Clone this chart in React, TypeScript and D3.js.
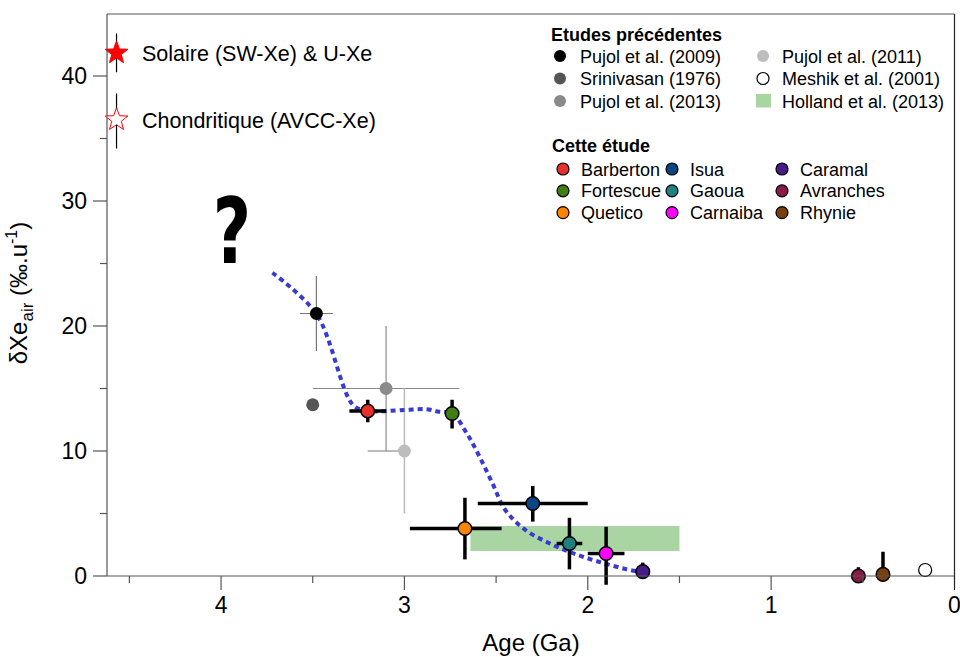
import React from "react";
import * as d3 from "d3";

// ---------- data ----------
const xTicksMajor = [0, 1, 2, 3, 4];
const xTicksMinor = [0.5, 1.5, 2.5, 3.5, 4.5];
const yTicksMajor = [0, 10, 20, 30, 40];
const yTicksMinor = [5, 15, 25, 35];

// previous studies
const prevNames = ["Pujol et al. (2009)", "Srinivasan (1976)", "Pujol et al. (2013)", "Pujol et al. (2011)", "Meshik et al. (2001)"];
const prevAge = [3.48, 3.5, 3.1, 3.0, 0.16];
const prevVal = [21.0, 13.7, 15.0, 10.0, 0.48];
const prevAgeHi = [3.57, null, 3.5, 3.2, null];
const prevAgeLo = [3.39, null, 2.7, 3.0, null];
const prevValHi = [24.0, null, 20.0, 15.0, null];
const prevValLo = [18.0, null, 10.0, 5.0, null];
const prevColors = ["#000000", "#555555", "#8a8a8a", "#bdbdbd", "#ffffff"];
const prevErrColors = ["#777777", "#777777", "#8a8a8a", "#bdbdbd", "#777777"];

// Holland et al. (2013) band
const hollandAge = [2.64, 1.5];
const hollandVal = [4.0, 2.0];

// this study
const studyNames = ["Barberton", "Fortescue", "Quetico", "Isua", "Gaoua", "Carnaiba", "Caramal", "Avranches", "Rhynie"];
const studyAge = [3.2, 2.74, 2.67, 2.3, 2.1, 1.9, 1.7, 0.524, 0.39];
const studyVal = [13.2, 13.0, 3.8, 5.8, 2.6, 1.8, 0.35, 0.0, 0.13];
const studyAgeHi = [3.3, 2.76, 2.97, 2.6, 2.17, 2.0, null, null, null];
const studyAgeLo = [3.1, 2.72, 2.47, 2.0, 2.03, 1.8, null, null, null];
const studyValHi = [14.1, 14.1, 6.26, 7.2, 4.66, 3.94, 1.07, 0.7, 1.94];
const studyValLo = [12.3, 11.8, 1.33, 4.35, 0.53, -0.7, 0.35, 0.0, 0.13];
const studyColors = ["#e8302a", "#3f7f12", "#ff8400", "#0b4584", "#1f8080", "#ff00ff", "#4a1a88", "#8a1a4a", "#7a3f0f"];

// trend curve (blue dotted)
const curveAge = [3.72, 3.48, 3.28, 3.2, 3.0, 2.88, 2.81, 2.74, 2.66, 2.59, 2.52, 2.45, 2.34, 2.21, 2.08, 1.94, 1.79, 1.72];
const curveVal = [24.26, 20.96, 13.68, 13.22, 13.28, 13.34, 13.14, 13.02, 11.42, 9.54, 7.42, 5.28, 3.68, 2.62, 1.82, 1.14, 0.54, 0.34];

// reference stars
const starLabels = ["Solaire (SW-Xe) & U-Xe", "Chondritique (AVCC-Xe)"];
const starAge = [4.57, 4.57];
const starVal = [41.84, 36.5];
const starValHi = [43.4, 38.6];
const starValLo = [40.3, 34.2];

const studyLegendOrder = ["Barberton", "Fortescue", "Quetico", "Isua", "Gaoua", "Carnaiba", "Caramal", "Avranches", "Rhynie"];

const FONT = "'Liberation Sans', Arial, Helvetica, sans-serif";

function starPath(cx: number, cy: number, R: number, r: number) {
  const pts: string[] = [];
  for (let i = 0; i < 10; i++) {
    const a = -Math.PI / 2 + (i * Math.PI) / 5;
    const rad = i % 2 === 0 ? R : r;
    pts.push(`${cx + rad * Math.cos(a)},${cy + rad * Math.sin(a)}`);
  }
  return "M" + pts.join("L") + "Z";
}

export default function App() {
  const left = 107, right = 954.5, top = 14, bottom = 576;
  const x = d3.scaleLinear().domain([4.622, 0]).range([left, right]);
  const y = d3.scaleLinear().domain([0, 45]).range([bottom, bottom - 45 * 12.5]);

  const line = d3
    .line<number>()
    .x((_, i) => x(curveAge[i]))
    .y((_, i) => y(curveVal[i]))
    .curve(d3.curveCatmullRom.alpha(0.5));

  const axisColor = "#555";

  return (
    <svg width={960} height={657} style={{ position: "absolute", left: 0, top: 0, background: "#fff" }} fontFamily={FONT}>
      {/* frame */}
      <line x1={left} x2={right} y1={top} y2={top} stroke={axisColor} strokeWidth={1.2} />
      <line x1={left} x2={left} y1={top} y2={bottom} stroke={axisColor} strokeWidth={1.2} />
      <line x1={right} x2={right} y1={top} y2={bottom} stroke="#222" strokeWidth={1.2} />

      {/* Holland band */}
      <rect
        x={x(hollandAge[0])}
        y={y(hollandVal[0])}
        width={x(hollandAge[1]) - x(hollandAge[0])}
        height={y(hollandVal[1]) - y(hollandVal[0])}
        fill="#a8d5a2"
      />

      {/* previous studies error bars */}
      {prevNames.map((n, i) => (
        <g key={"pe" + i}>
          {prevValHi[i] != null && (
            <line x1={x(prevAge[i])} x2={x(prevAge[i])} y1={y(prevValHi[i] as number)} y2={y(prevValLo[i] as number)}
              stroke={prevErrColors[i]} strokeWidth={i === 3 ? 1.6 : 1.2} />
          )}
          {prevAgeHi[i] != null && (
            <line x1={x(prevAgeHi[i] as number)} x2={x(prevAgeLo[i] as number)} y1={y(prevVal[i])} y2={y(prevVal[i])}
              stroke={i === 3 ? "#777" : prevErrColors[i]} strokeWidth={1.2} />
          )}
        </g>
      ))}

      {/* trend curve */}
      <path d={line(curveAge) || ""} fill="none" stroke="#3a3ad2" strokeWidth={4} strokeDasharray="5,4" />

      {/* previous studies points */}
      {prevNames.map((n, i) => (
        <circle key={"pp" + i} cx={x(prevAge[i])} cy={y(prevVal[i])} r={6.5}
          fill={prevColors[i]} stroke={i === 4 ? "#000" : "none"} strokeWidth={1.2} />
      ))}

      {/* this study error bars */}
      {studyNames.map((n, i) => (
        <g key={"se" + i}>
          <line x1={x(studyAge[i])} x2={x(studyAge[i])} y1={y(studyValHi[i])} y2={y(studyValLo[i])}
            stroke="#000" strokeWidth={3.5} />
          {studyAgeHi[i] != null && (
            <line x1={x(studyAgeHi[i] as number)} x2={x(studyAgeLo[i] as number)} y1={y(studyVal[i])} y2={y(studyVal[i])}
              stroke="#000" strokeWidth={3.5} />
          )}
        </g>
      ))}
      {studyNames.map((n, i) => (
        <circle key={"sp" + i} cx={x(studyAge[i])} cy={y(studyVal[i])} r={6.8}
          fill={studyColors[i]} stroke="#000" strokeWidth={1.5} />
      ))}

      {/* x axis */}
      <line x1={left} x2={right} y1={bottom} y2={bottom} stroke={axisColor} strokeWidth={1.2} />
      {xTicksMajor.map((t) => (
        <g key={"xt" + t}>
          <line x1={x(t)} x2={x(t)} y1={bottom} y2={bottom + 14} stroke={t === 0 ? "#222" : axisColor} strokeWidth={1.2} />
          <text x={x(t)} y={613} fontSize={23} textAnchor="middle" fill="#000">{t}</text>
        </g>
      ))}
      {xTicksMinor.map((t) => (
        <line key={"xm" + t} x1={x(t)} x2={x(t)} y1={bottom} y2={bottom + 7} stroke={axisColor} strokeWidth={1.2} />
      ))}
      <text x={531} y={651} fontSize={24} textAnchor="middle" fill="#000">Age (Ga)</text>

      {/* y axis */}
      {yTicksMajor.map((t) => (
        <g key={"yt" + t}>
          <line x1={left - 14} x2={left} y1={y(t)} y2={y(t)} stroke={axisColor} strokeWidth={1.2} />
          <text x={87} y={y(t)} dy="0.36em" fontSize={23} textAnchor="end" fill="#000">{t}</text>
        </g>
      ))}
      {yTicksMinor.map((t) => (
        <line key={"ym" + t} x1={left - 7} x2={left} y1={y(t)} y2={y(t)} stroke={axisColor} strokeWidth={1.2} />
      ))}
      <text transform="translate(27,293) rotate(-90)" fontSize={24} textAnchor="middle" fill="#000">
        δXe<tspan fontSize={17} dy={6}>air</tspan>
        <tspan dy={-6}> (‰.u</tspan>
        <tspan fontSize={16} dy={-10}>-1</tspan>
        <tspan dy={10}>)</tspan>
      </text>

      {/* reference stars */}
      {starLabels.map((s, i) => (
        <g key={"st" + i}>
          <line x1={x(starAge[i])} x2={x(starAge[i])} y1={y(starValHi[i])} y2={y(starValLo[i])} stroke="#000" strokeWidth={1.2} />
          <path d={starPath(x(starAge[i]), y(starVal[i]), 12, 5)} fill={i === 0 ? "#ff0000" : "#fff"}
            stroke="#ff0000" strokeWidth={1} />
          <text x={142} y={y(starVal[i]) + 8} fontSize={21.5} fill="#000">{s}</text>
        </g>
      ))}

      {/* question mark */}
      <text x={232} y={263} fontSize={92} fontWeight="bold" textAnchor="middle" fill="#000" fontFamily="'DejaVu Sans', sans-serif"
        transform="translate(232,263) scale(0.72,0.98) translate(-232,-263)">?</text>

      {/* legend: previous studies */}
      <text x={551} y={41} fontSize={18} fontWeight="bold" fill="#000">Etudes précédentes</text>
      {[0, 1, 2].map((k) => (
        <g key={"lp" + k}>
          <circle cx={560} cy={56 + k * 22.5} r={6} fill={prevColors[k]} />
          <text x={580} y={56 + k * 22.5 + 6.5} fontSize={18} fill="#000">{prevNames[k]}</text>
        </g>
      ))}
      <circle cx={763} cy={56} r={6} fill={prevColors[3]} />
      <text x={782} y={62.5} fontSize={18} fill="#000">{prevNames[3]}</text>
      <circle cx={763} cy={78.5} r={6} fill="#fff" stroke="#000" strokeWidth={1.2} />
      <text x={782} y={85} fontSize={18} fill="#000">{prevNames[4]}</text>
      <rect x={756} y={94} width={15} height={13.5} fill="#a8d5a2" />
      <text x={782} y={107.5} fontSize={18} fill="#000">Holland et al. (2013)</text>

      {/* legend: this study */}
      <text x={552} y={152} fontSize={18} fontWeight="bold" fill="#000">Cette étude</text>
      {studyLegendOrder.map((n, k) => {
        const col = Math.floor(k / 3);
        const row = k % 3;
        const cx = [563, 672, 782][col];
        const tx = [581, 690, 800][col];
        const cy = 169 + row * 21.8;
        const idx = studyNames.indexOf(n);
        return (
          <g key={"ls" + k}>
            <circle cx={cx} cy={cy} r={6} fill={studyColors[idx]} stroke="#000" strokeWidth={1.2} />
            <text x={tx} y={cy + 6.5} fontSize={18} fill="#000">{n}</text>
          </g>
        );
      })}
    </svg>
  );
}
